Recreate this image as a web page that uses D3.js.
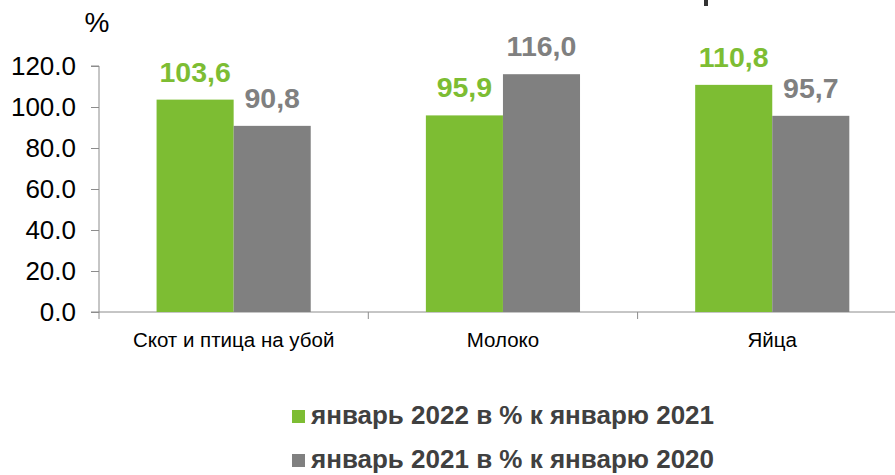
<!DOCTYPE html>
<html>
<head>
<meta charset="utf-8">
<script src="https://cdn.jsdelivr.net/npm/d3@7"></script>
<style>
  body { margin: 0; background: #fff; }
  svg { display: block; font-family: "Liberation Sans", Arial, sans-serif; }
</style>
</head>
<body>
<svg id="chart" width="895" height="475"></svg>
<script>
const categories = ['Скот и птица на убой', 'Молоко', 'Яйца'];
const seriesNames = ['январь 2022 в % к январю 2021', 'январь 2021 в % к январю 2020'];
const values2022 = [103.6, 95.9, 110.8];
const values2021 = [90.8, 116.0, 95.7];
const yTicks = [0, 20, 40, 60, 80, 100, 120];
const colors = ['#7dbd33', '#808080'];

const svg = d3.select('#chart');
const left = 99, zeroY = 312, topY = 66;
const bandW = 269.3;

const x0 = d3.scaleBand()
    .domain(categories)
    .range([left, left + bandW * categories.length])
    .padding(0);

const x1 = d3.scaleBand()
    .domain([0, 1])
    .range([0, x0.bandwidth()])
    .paddingInner(0)
    .paddingOuter(0.747);

const y = d3.scaleLinear()
    .domain([0, 120])
    .range([zeroY, topY]);

// bit of the title that sits above the picture
svg.append('rect')
    .attr('x', 704)
    .attr('y', 0)
    .attr('width', 4)
    .attr('height', 6)
    .attr('fill', '#333');

// y axis
const yAxis = svg.append('g')
    .attr('transform', `translate(${left},0)`)
    .call(d3.axisLeft(y)
        .tickValues(yTicks)
        .tickSize(8)
        .tickPadding(15)
        .tickFormat(d3.format('.1f')));
yAxis.select('.domain').attr('stroke', '#8c8c8c').attr('d', `M-8,${topY}H0V${zeroY}`);
yAxis.selectAll('.tick line').attr('stroke', '#8c8c8c');
yAxis.selectAll('.tick text')
    .attr('font-size', 26)
    .attr('fill', '#000')
    .attr('font-family', '"Liberation Sans", Arial, sans-serif');

svg.append('text')
    .attr('x', 97)
    .attr('y', 32)
    .attr('text-anchor', 'middle')
    .attr('font-size', 28)
    .text('%');

// x axis
const xAxis = svg.append('g')
    .attr('transform', `translate(0,${zeroY})`)
    .call(d3.axisBottom(x0).tickSize(0).tickPadding(20));
xAxis.select('.domain').attr('stroke', '#8c8c8c').attr('d', `M${left - 8},0H${left + bandW * 3}`);
xAxis.selectAll('.tick text')
    .attr('font-size', 20.5)
    .attr('fill', '#000')
    .attr('font-family', '"Liberation Sans", Arial, sans-serif');

svg.append('g')
    .selectAll('line')
    .data(d3.range(categories.length + 1))
    .join('line')
    .attr('x1', i => left + bandW * i)
    .attr('x2', i => left + bandW * i)
    .attr('y1', zeroY)
    .attr('y2', zeroY + 7)
    .attr('stroke', '#8c8c8c');

// bars
const data = categories.map((c, i) => ({cat: c, vals: [values2022[i], values2021[i]]}));
const groups = svg.append('g')
    .selectAll('g')
    .data(data)
    .join('g')
    .attr('transform', d => `translate(${x0(d.cat)},0)`);

groups.selectAll('rect')
    .data(d => d.vals.map((v, k) => ({k, v})))
    .join('rect')
    .attr('x', d => x1(d.k))
    .attr('y', d => y(d.v))
    .attr('width', x1.bandwidth())
    .attr('height', d => zeroY - y(d.v))
    .attr('fill', d => colors[d.k]);

groups.selectAll('text')
    .data(d => d.vals.map((v, k) => ({k, v})))
    .join('text')
    .attr('x', d => x1(d.k) + x1.bandwidth() / 2)
    .attr('y', d => y(d.v) - 18)
    .attr('text-anchor', 'middle')
    .attr('font-size', 28.5)
    .attr('font-weight', 'bold')
    .attr('fill', d => colors[d.k])
    .text(d => d.v.toFixed(1).replace('.', ','));

// legend
const legend = svg.append('g')
    .selectAll('g')
    .data(seriesNames)
    .join('g')
    .attr('transform', (d, i) => `translate(292,${410 + i * 44})`);
legend.append('rect')
    .attr('width', 13)
    .attr('height', 13)
    .attr('fill', (d, i) => colors[i]);
legend.append('text')
    .attr('x', 19)
    .attr('y', 14)
    .attr('font-size', 26)
    .attr('font-weight', 'bold')
    .attr('fill', '#404040')
    .text(d => d);
</script>
</body>
</html>
